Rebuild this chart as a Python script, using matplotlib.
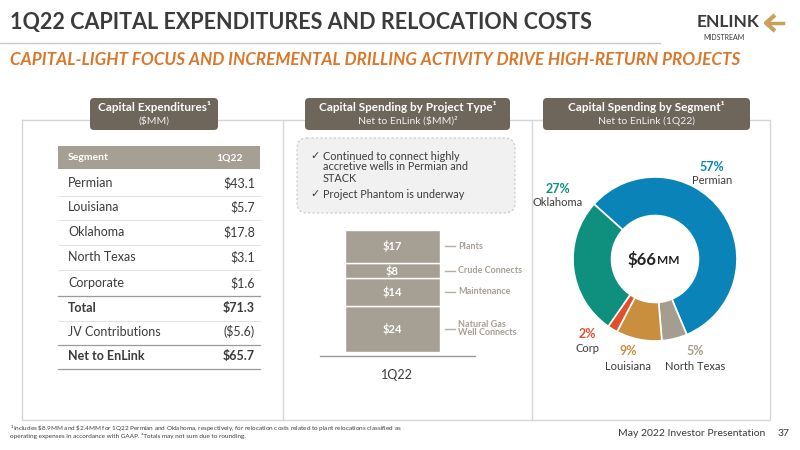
import matplotlib.pyplot as plt
from matplotlib.patches import FancyBboxPatch, Rectangle

plt.rcParams['font.family'] = ['Lato', 'DejaVu Sans']

segments = ["Permian", "Louisiana", "Oklahoma", "North Texas", "Corporate", "Total", "JV Contributions", "Net to EnLink"]
capex = ["$43.1", "$5.7", "$17.8", "$3.1", "$1.6", "$71.3", "($5.6)", "$65.7"]
bold_rows = {"Total", "Net to EnLink"}

project_types = ["Natural Gas\nWell Connects", "Maintenance", "Crude Connects", "Plants"]
project_values = [24, 14, 8, 17]

pie_labels = ["Permian", "North Texas", "Louisiana", "Corp", "Oklahoma"]
pie_values = [57, 5, 9, 2, 27]
pie_colors = ["#0a84b8", "#a59d8f", "#c98e3e", "#e0502f", "#0f8f7e"]

dark = "#3b3b3b"
brown = "#6f665b"
orange = "#d9772b"

fig = plt.figure(figsize=(8, 4.5), dpi=100)
bg = fig.add_axes([0, 0, 1, 1])
bg.set_xlim(0, 800)
bg.set_ylim(450, 0)
bg.axis("off")

# header
bg.text(10, 22, "1Q22 CAPITAL EXPENDITURES AND RELOCATION COSTS", fontsize=15.5, fontweight="bold",
        color=dark, va="center")
bg.plot([0, 660], [43, 43], color="#c9c9c9", lw=1)
bg.text(10, 60, "CAPITAL-LIGHT FOCUS AND INCREMENTAL DRILLING ACTIVITY DRIVE HIGH-RETURN PROJECTS",
        fontsize=12.3, fontweight="bold", style="italic", color=orange, va="center")
bg.text(697, 22, "ENLINK", fontsize=12.5, fontweight="bold", color=dark, va="center")
bg.text(703, 37, "MIDSTREAM", fontsize=5, color=dark, va="center")
bg.plot([775, 766, 775], [15, 23, 31], color="#c8a15a", lw=3, solid_capstyle="butt")
bg.plot([768, 783], [23, 23], color="#c8a15a", lw=2.5)

# panel outline
for xs, ys in [([22, 22, 770, 770, 22], [120, 420, 420, 120, 120]), ([283, 283], [120, 420]),
               ([532, 532], [120, 420])]:
    bg.plot(xs, ys, color="#d6d6d6", lw=1, zorder=0)

def header_box(x0, x1, title, sub):
    bg.add_patch(FancyBboxPatch((x0, 98), x1 - x0, 32, boxstyle="round,pad=0,rounding_size=4",
                                fc=brown, ec="none", zorder=2))
    bg.text((x0 + x1) / 2, 107, title, ha="center", va="center", fontsize=8.5, fontweight="bold",
            color="white", zorder=3)
    bg.text((x0 + x1) / 2, 121, sub, ha="center", va="center", fontsize=7.5, color="#efefef", zorder=3)

header_box(90, 218, "Capital Expenditures\u00b9", r"(\$MM)")
header_box(305, 510, "Capital Spending by Project Type\u00b9", r"Net to EnLink (\$MM)" + "\u00b2")
header_box(543, 750, "Capital Spending by Segment\u00b9", "Net to EnLink (1Q22)")

# table
bg.add_patch(Rectangle((58, 146), 202, 23, fc="#a69f94", ec="none"))
bg.text(68, 157.5, "Segment", fontsize=7.5, fontweight="bold", color="white", va="center")
bg.text(230, 157.5, "1Q22", fontsize=7.5, fontweight="bold", color="white", va="center", ha="center")
row_y = [183, 207, 232, 257, 283, 308, 332, 356]
for name, val, y in zip(segments, capex, row_y):
    w = "bold" if name in bold_rows else "normal"
    bg.text(68, y, name, fontsize=9, color=dark, va="center", fontweight=w)
    bg.text(255, y, val.replace("$", r"\$"), fontsize=9, color=dark, va="center", ha="right", fontweight=w)
    bg.plot([58, 260], [y + 12.5, y + 12.5], color="#dcdcdc", lw=0.6)
for y in (295.5, 344.5, 368.5):
    bg.plot([58, 260], [y, y], color="#9a9a9a", lw=0.9)

# note box
bg.add_patch(FancyBboxPatch((297, 138), 218, 75, boxstyle="round,pad=0,rounding_size=10",
                            fc="#f1f1f1", ec="#c8c8c8", ls=(0, (2, 2)), lw=0.8))
bg.text(310, 155, "\u2713", fontsize=8, color=dark, va="center")
bg.text(323, 167, "Continued to connect highly\naccretive wells in Permian and\nSTACK",
        fontsize=7.8, color=dark, va="center", linespacing=1.0)
bg.text(310, 194, "\u2713", fontsize=8, color=dark, va="center")
bg.text(323, 194, "Project Phantom is underway", fontsize=7.8, color=dark, va="center")

# stacked bar
ax = fig.add_axes([310 / 800, 1 - 352 / 450, 170 / 800, 122 / 450])
bottom = 0
for lab, v in zip(project_types, project_values):
    ax.bar(0, v, bottom=bottom, width=0.95, color="#a69f94", edgecolor="white", lw=1)
    ax.text(0, bottom + v / 2, rf"\${v}", ha="center", va="center", color="white", fontsize=8, fontweight="bold")
    ax.plot([0.53, 0.63], [bottom + v / 2] * 2, color="#b5aea3", lw=1, clip_on=False)
    ax.text(0.66, bottom + v / 2, lab, ha="left", va="center", color="#a69f94", fontsize=6.5,
            fontweight="bold", linespacing=0.9, clip_on=False)
    bottom += v
ax.set_xlim(-0.82, 0.88)
ax.set_ylim(0, sum(project_values))
ax.axis("off")
ax.plot([-0.72, 0.83], [-2, -2], color="#999999", lw=1, clip_on=False)
ax.text(0.05, -12, "1Q22", ha="center", va="center", fontsize=9, color=dark)

# donut
pax = fig.add_axes([(655 - 82) / 800, 1 - (259 + 82) / 450, 164 / 800, 164 / 450])
pax.pie(pie_values, colors=pie_colors, startangle=138, counterclock=False,
        wedgeprops=dict(width=0.47, edgecolor="white", linewidth=1.2))
pax.set_xlim(-1, 1)
pax.set_ylim(-1, 1)
pax.set_aspect("equal")
pax.text(0.02, 0, r"\$66", ha="right", va="center", fontsize=12, fontweight="bold", color="#222222")
pax.text(0.03, -0.02, "MM", ha="left", va="center", fontsize=8.5, fontweight="bold", color="#222222")

pie_text = [(712, 167, 181), (695, 351, 366), (628, 351, 366), (587, 334, 348), (558, 189, 203)]
for (x, y1, y2), lab, v, c in zip(pie_text, pie_labels, pie_values, pie_colors):
    bg.text(x, y1, f"{v}%", ha="center", va="center", fontsize=9, fontweight="bold", color=c)
    bg.text(x, y2, lab, ha="center", va="center", fontsize=8, color=dark)

# footer
bg.text(10, 429, r"$^1$Includes \$8.9MM and \$2.4MM for 1Q22 Permian and Oklahoma, respectively, for relocation costs related to plant relocations classified as",
        fontsize=4.6, color=dark, va="center")
bg.text(10, 436, "operating expenses in accordance with GAAP. \u00b2Totals may not sum due to rounding.",
        fontsize=4.6, color=dark, va="center")
bg.text(765, 434, "May 2022 Investor Presentation", fontsize=7.5, color=dark, va="center", ha="right")
bg.text(790, 434, "37", fontsize=7.5, color=dark, va="center", ha="right")

fig.savefig("out.png", dpi=100)
